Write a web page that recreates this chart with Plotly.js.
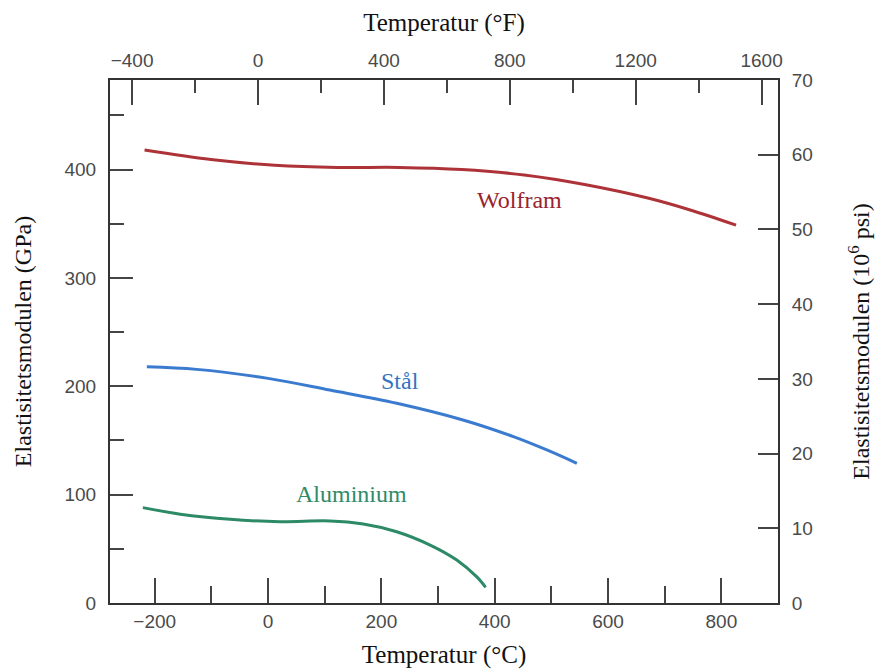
<!DOCTYPE html>
<html>
<head>
<meta charset="utf-8">
<script src="https://cdn.plot.ly/plotly-3.0.1.min.js"></script>
<style>html,body{margin:0;padding:0;background:#fff;}#chart{width:879px;height:669px;}</style>
</head>
<body>
<div id="chart"></div>
<script>
// Temperature (°C) and elastic modulus (GPa)
const wolframC   = [-218, -97, 12, 122, 232, 342, 452, 561, 672, 745, 826];
const wolframGPa = [418, 409, 404, 402, 402, 400, 395, 386, 373.5, 362.7, 348.7];
const stalC      = [-214, -126, 0, 109, 227, 344, 433, 492, 545];
const stalGPa    = [218, 215.6, 207.3, 196.5, 184.3, 168.9, 153.5, 141.2, 128.9];
const aluC       = [-221, -155, -67, 21, 109, 168, 227, 286, 333, 368, 384];
const aluGPa     = [88, 82, 77.2, 75, 75.7, 72.9, 65.8, 53.5, 39.7, 24.3, 14.5];

const seriesNames = ['Wolfram', 'Stål', 'Aluminium'];
const labelC   = [443, 233, 148];
const labelGPa = [372, 205, 101];

const cTicks = [-200, 0, 200, 400, 600, 800];
const fTicks = [-400, 0, 400, 800, 1200, 1600];
const gpaTicks = [0, 100, 200, 300, 400];
const psiTicks = [0, 10, 20, 30, 40, 50, 60, 70];

const colors = ['#ad3338', '#3a7bd0', '#2c8a66'];
const labelColors = ['#98232d', '#3672bf', '#2f8a68'];

const cRange = [-279, 900];
const fRange = cRange.map(c => c * 1.8 + 32);
const gpaMax = 70 / 0.145038;

const serif = 'Liberation Serif, Times New Roman, serif';
const sans = 'Liberation Sans, Arial, sans-serif';

const traces = [
  {x: wolframC, y: wolframGPa, mode: 'lines', line: {color: colors[0], width: 3, shape: 'spline'}},
  {x: stalC, y: stalGPa, mode: 'lines', line: {color: colors[1], width: 3, shape: 'spline'}},
  {x: aluC, y: aluGPa, mode: 'lines', line: {color: colors[2], width: 3, shape: 'spline'}},
  {x: [0], y: [0], xaxis: 'x2', yaxis: 'y2', mode: 'markers', marker: {opacity: 0}, hoverinfo: 'skip'}
];

const annotations = seriesNames.map((n, i) => ({
  x: labelC[i], y: labelGPa[i], xref: 'x', yref: 'y', text: n, showarrow: false,
  font: {family: serif, size: 24, color: labelColors[i]}
}));

const tickCol = '#444';
const tickFont = {family: sans, size: 19, color: '#4a4a4a'};
const layout = {
  width: 879, height: 669,
  margin: {l: 110, r: 101, t: 80, b: 66},
  paper_bgcolor: '#fff', plot_bgcolor: '#fff',
  showlegend: false,
  annotations: annotations,
  xaxis: {
    range: cRange, tickvals: cTicks, ticks: 'inside', ticklen: 25, tickwidth: 2, tickcolor: tickCol,
    minor: {dtick: 100, tick0: -200, ticks: 'inside', ticklen: 17, tickwidth: 2, tickcolor: tickCol, showgrid: false},
    showline: true, linecolor: '#333', linewidth: 2, showgrid: false, zeroline: false,
    tickfont: tickFont,
    title: {text: 'Temperatur (°C)', font: {family: serif, size: 25, color: '#111'}, standoff: 18}
  },
  xaxis2: {
    overlaying: 'x', side: 'top', range: fRange, tickvals: fTicks,
    ticks: 'inside', ticklen: 25, tickwidth: 2, tickcolor: tickCol,
    minor: {dtick: 200, tick0: -400, ticks: 'inside', ticklen: 13, tickwidth: 2, tickcolor: tickCol, showgrid: false},
    showline: true, linecolor: '#333', linewidth: 2, showgrid: false, zeroline: false,
    tickfont: tickFont, ticklabelstandoff: 3,
    title: {text: 'Temperatur (°F)', font: {family: serif, size: 25, color: '#111'}, standoff: 12}
  },
  yaxis: {
    range: [0, gpaMax], tickvals: gpaTicks, ticks: 'inside', ticklen: 23, tickwidth: 2, tickcolor: tickCol,
    minor: {dtick: 50, tick0: 0, ticks: 'inside', ticklen: 14, tickwidth: 2, tickcolor: tickCol, showgrid: false},
    showline: true, linecolor: '#333', linewidth: 2, showgrid: false, zeroline: false,
    tickfont: tickFont, ticklabelstandoff: 8,
    title: {text: 'Elastisitetsmodulen (GPa)', font: {family: serif, size: 24, color: '#111'}, standoff: 26}
  },
  yaxis2: {
    overlaying: 'y', side: 'right', range: [0, 70], tickvals: psiTicks,
    ticks: 'inside', ticklen: 20, tickwidth: 2, tickcolor: tickCol,
    showline: true, linecolor: '#333', linewidth: 2, showgrid: false, zeroline: false,
    tickfont: tickFont, ticklabelstandoff: 8,
    title: {text: 'Elastisitetsmodulen (10<sup>6</sup> psi)', font: {family: serif, size: 24, color: '#111'}, standoff: 40}
  }
};

Plotly.newPlot('chart', traces, layout, {displayModeBar: false, staticPlot: true});
</script>
</body>
</html>
